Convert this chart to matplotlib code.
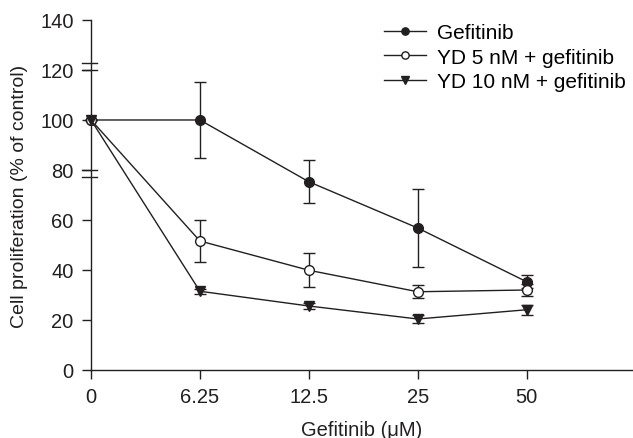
import matplotlib
matplotlib.use("Agg")
import matplotlib.pyplot as plt

plt.rcParams["font.family"] = ["Liberation Sans", "DejaVu Sans"]

doses = ["0", "6.25", "12.5", "25", "50"]
gef = [100, 100, 75.3, 56.8, 35.3]
gef_err = [0, 15.2, 8.5, 15.5, 2.7]
yd5 = [100, 51.6, 39.9, 31.3, 32.0]
yd5_err = [0, 8.5, 6.8, 2.7, 2.5]
yd10 = [100, 31.5, 25.6, 20.4, 24.1]
yd10_err = [0, 1.0, 1.2, 1.5, 2.0]
series_labels = ["Gefitinib", "YD 5 nM + gefitinib", "YD 10 nM + gefitinib"]

ink = "#231f20"
fig = plt.figure(figsize=(6.33, 4.39), dpi=100)
ax = fig.add_axes([0.1438, 0.1549, 0.855, 0.7973])

x = list(range(len(doses)))
styles = [("o", ink), ("o", "white"), ("v", ink)]
for vals, errs, lab, (mk, fc) in zip([gef, yd5, yd10], [gef_err, yd5_err, yd10_err],
                                     series_labels, styles):
    ax.errorbar(x, vals, yerr=errs, color=ink, lw=1.0, marker=mk, ms=7,
                mfc=fc, mec=ink, mew=1.0, capsize=4.5, elinewidth=1.0,
                capthick=1.0, label=lab, clip_on=False, zorder=3)

ax.set_xlim(0, 4.97)
ax.set_ylim(0, 140)
ax.set_xticks(x)
ax.set_xticklabels(doses)
ax.set_yticks(range(0, 141, 20))
ax.tick_params(labelsize=14.5, length=6.5, width=1.0, pad=6, color=ink, labelcolor=ink)
for s in ["top", "right"]:
    ax.spines[s].set_visible(False)
for s in ["left", "bottom"]:
    ax.spines[s].set_color(ink)
    ax.spines[s].set_linewidth(1.0)

# double marks on the y axis
for yv in [120, 122.8, 80, 77]:
    ax.plot([-0.017, 0.011], [yv, yv], color=ink, lw=1.0,
            transform=ax.get_yaxis_transform(), clip_on=False)

ax.set_xlabel("Gefitinib (\u03bcM)", fontsize=14.5, color=ink, labelpad=10)
ax.set_ylabel("Cell proliferation (% of control)", fontsize=14, color=ink, labelpad=9)

handles, labels = ax.get_legend_handles_labels()
handles = [h[0] for h in handles]
ax.legend(handles, labels, loc="upper left", bbox_to_anchor=(0.507, 1.045),
          frameon=False, fontsize=15, handlelength=2.0, handletextpad=0.55,
          labelspacing=0.27, markerscale=0.75)

fig.savefig("out.png", dpi=100)
